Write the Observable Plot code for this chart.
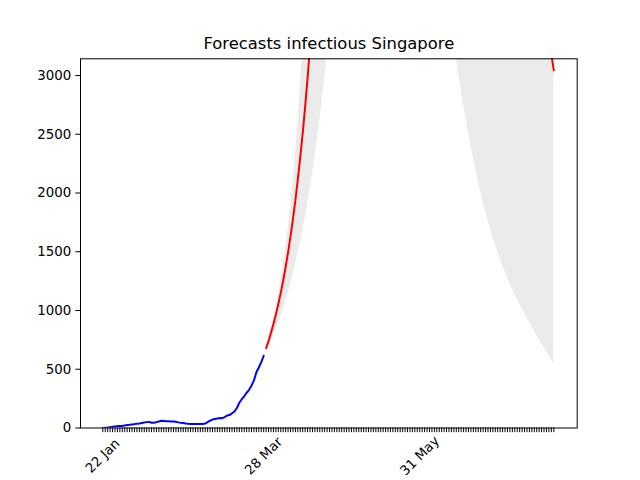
<!DOCTYPE html>
<html><head><meta charset="utf-8">
<script src="https://cdn.jsdelivr.net/npm/d3@7"></script>
<script src="https://cdn.jsdelivr.net/npm/@observablehq/plot@0.6"></script>
<style>html,body{margin:0;background:#fff} svg{display:block}</style>
</head><body><div id="chart"></div>
<script>
const title = "Forecasts infectious Singapore";
const startDate = "2020-01-22";
// observed infectious counts, day 0 .. 66
const observedValues = [1,3,4,7,10,13,16,18,18,22,25,27,30,33,36,38,42,47,50,52,45,44,50,56,62,60,58,57,56,56,53,48,44,42,38,36,35,34,33,34,33,34,38,50,62,72,76,80,85,84,92,106,110,125,140,170,215,245,270,300,325,360,405,475,515,560,615];
// forecast days (offset from start)
const forecastDays = [67,68,69,70,71,72,73,74,75,76,77,78,79,80,81,82,83,84,85,86,87,88,89,90,91,92,93,95,100,110,120,130,140,143,144,145,146,147,148,149,150,151,152,153,154,155,156,157,158,159,160,161,162,163,164,165,166,167,168,169,170,171,172,173,174,175,176,177,178,179,180,181,182,183,184,185];
const forecastMid = [680,740,810,885,965,1055,1150,1255,1370,1495,1630,1780,1940,2115,2305,2510,2735,2980,3245,3535,3850,4190,4560,4960,5390,5860,6370,7500,11500,24000,38000,46000,40000,36500,35000,33500,32000,30500,29000,27500,26000,24600,23200,21800,20400,19100,17800,16600,15400,14300,13200,12200,11300,10400,9600,8850,8150,7500,6900,6350,5850,5400,5000,4650,4350,4100,3900,3730,3590,3470,3380,3310,3250,3210,3180,3043];
const forecastLow = [650,690,735,785,835,890,950,1010,1075,1145,1220,1300,1385,1475,1575,1680,1790,1905,2030,2165,2305,2455,2615,2790,2970,3165,3370,3800,5200,8000,9500,8200,5300,4000,3450,3142,3005,2874,2748,2628,2513,2403,2298,2197,2101,2010,1923,1843,1768,1694,1626,1561,1499,1440,1384,1330,1280,1231,1184,1139,1096,1055,1015,976,937,899,862,826,790,755,720,686,651,616,581,546];
const forecastHigh = [700,770,850,935,1030,1135,1250,1380,1525,1690,1875,2085,2320,2590,2900,3250,3650,4100,4620,5200,5850,6600,7400,8300,9300,10400,11600,14500,24000,55000,90000,120000,140000,143000,144000,145000,145800,146500,147100,147600,148000,148300,148500,148600,148600,148400,148100,147700,147200,146600,145900,145100,144200,143200,142100,140900,139600,138200,136700,135100,133400,131600,129700,127700,125600,123400,121100,118700,116200,113600,110900,108100,105200,102200,99100,96000];
const lastTickDay = 185;
const tickLabelDays = [0, 66, 130];
const tickLabels = ["22 Jan", "28 Mar", "31 May"];
const yTicks = [0, 500, 1000, 1500, 2000, 2500, 3000];

const DAY = 864e5;
const t0 = new Date(startDate + "T00:00:00Z").getTime();
const toDate = d => new Date(t0 + d * DAY);

const observed = observedValues.map((v, i) => ({date: toDate(i), value: v}));
const forecast = forecastDays.map((d, i) => ({date: toDate(d), mid: forecastMid[i], low: forecastLow[i], high: forecastHigh[i]}));
const tickDates = d3.range(0, lastTickDay + 1).map(toDate);
const labelRows = tickLabelDays.map((d, i) => ({date: toDate(d), label: tickLabels[i]}));

const font = "DejaVu Sans";
const chart = Plot.plot({
  width: 640,
  height: 480,
  marginLeft: 80,
  marginRight: 63.3,
  marginTop: 58.3,
  marginBottom: 52.5,
  style: {fontFamily: font, fontSize: "13.33px", color: "black", background: "white"},
  x: {type: "utc", domain: [toDate(-9.15), toDate(194.6)], label: null},
  y: {domain: [0, 3142], label: null},
  marks: [
    Plot.areaY(forecast, {x: "date", y1: "low", y2: "high", fill: "#ebebeb", clip: true}),
    Plot.lineY(forecast, {x: "date", y: "mid", stroke: "red", strokeWidth: 2, clip: true}),
    Plot.lineY(observed, {x: "date", y: "value", stroke: "blue", strokeWidth: 2, clip: true}),
    Plot.frame({stroke: "black", strokeWidth: 1}),
    Plot.axisX({ticks: tickDates, tickFormat: () => "", tickSize: 4.67, strokeWidth: 1}),
    Plot.axisY({ticks: yTicks, tickSize: 4.67, tickPadding: 4.67, tickFormat: d3.format("d"), fontSize: 13.33, strokeWidth: 1}),
    Plot.text(labelRows, {x: "date", text: "label", frameAnchor: "bottom", dy: 28, rotate: -45, textAnchor: "middle", lineAnchor: "middle", fontSize: 13.33, fill: "black"}),
    Plot.text([title], {text: d => d, frameAnchor: "top", dy: -10, lineAnchor: "bottom", fontSize: 16.4, fill: "black"})
  ]
});
document.getElementById("chart").appendChild(chart);
</script>
</body></html>
